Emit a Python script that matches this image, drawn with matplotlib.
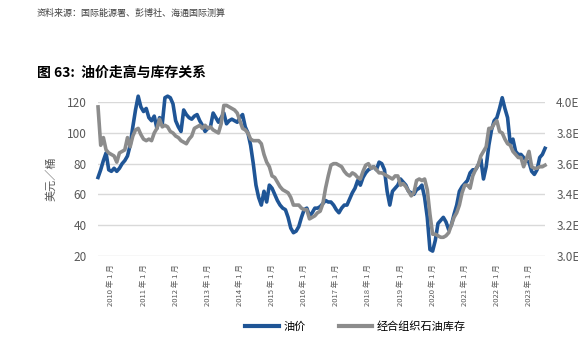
import matplotlib
matplotlib.use('Agg')
import matplotlib.pyplot as plt
from matplotlib.lines import Line2D

plt.rcParams['font.family'] = ['Noto Sans CJK SC', 'DejaVu Sans']

# 月度数据：油价（美元/桶）与经合组织石油库存（E）
oil_price = [
    71, 76, 82, 87, 76, 75, 77, 75, 77, 80, 82, 85,
    92, 104, 115, 124, 117, 114, 116, 110, 108, 111, 103, 110,
    106, 123, 124, 123, 119, 108, 104, 101, 115, 112, 110, 109,
    111, 112, 108, 105, 101, 103, 104, 113, 110, 107, 110, 113,
    106, 108, 109, 108, 107, 110, 112, 104, 100, 92, 80, 66,
    58, 53, 62, 55, 66, 64, 60, 56, 53, 51, 50, 45,
    38, 35, 36, 39, 45, 50, 51, 46, 48, 51, 51, 52,
    54, 56, 55, 55, 53, 50, 48, 51, 53, 53, 57, 61,
    64, 69, 66, 71, 74, 76, 77, 78, 76, 81, 80, 76,
    62, 53, 62, 64, 66, 70, 68, 66, 62, 61, 60, 63,
    64, 66, 58, 45, 24, 23, 30, 41, 43, 45, 42, 37,
    40, 47, 53, 62, 65, 67, 69, 74, 76, 76, 79, 83,
    70, 78, 92, 102, 108, 110, 116, 123, 116, 110, 93, 96,
    88, 86, 86, 84, 82, 81, 75, 73, 76, 84, 86, 90,
]
oecd_stock = [
    3.97, 3.72, 3.77, 3.69, 3.67, 3.66, 3.65, 3.61, 3.67, 3.68, 3.69, 3.77,
    3.71, 3.78, 3.82, 3.83, 3.79, 3.76, 3.75, 3.76, 3.75, 3.80, 3.83, 3.89,
    3.84, 3.85, 3.84, 3.81, 3.80, 3.78, 3.77, 3.75, 3.74, 3.73, 3.76, 3.78,
    3.83, 3.84, 3.85, 3.83, 3.85, 3.83, 3.84, 3.82, 3.81, 3.80, 3.86, 3.98,
    3.98, 3.97, 3.96, 3.95, 3.93, 3.88, 3.83, 3.82, 3.80, 3.76, 3.75, 3.75,
    3.75, 3.73, 3.66, 3.61, 3.58, 3.52, 3.51, 3.48, 3.45, 3.43, 3.42, 3.41,
    3.38, 3.33, 3.33, 3.33, 3.31, 3.30, 3.30, 3.24, 3.25, 3.26, 3.28, 3.29,
    3.34, 3.44, 3.52, 3.59, 3.60, 3.60, 3.59, 3.58, 3.55, 3.53, 3.52, 3.54,
    3.53, 3.51, 3.50, 3.55, 3.59, 3.60, 3.57, 3.58, 3.56, 3.54, 3.54, 3.53,
    3.52, 3.51, 3.50, 3.52, 3.52, 3.46, 3.47, 3.45, 3.42, 3.39, 3.41, 3.49,
    3.50, 3.49, 3.50, 3.43, 3.27, 3.14, 3.14, 3.13, 3.12, 3.12, 3.13, 3.15,
    3.20, 3.25, 3.28, 3.33, 3.41, 3.46, 3.46, 3.44, 3.52, 3.56, 3.59, 3.65,
    3.68, 3.71, 3.83, 3.83, 3.86, 3.88, 3.81, 3.80, 3.76, 3.73, 3.72, 3.68,
    3.66, 3.64, 3.64, 3.58, 3.63, 3.68, 3.58, 3.57, 3.57, 3.58, 3.58, 3.59,
]
years = list(range(2010, 2024))
tick_pos = [5 + 12 * k for k in range(len(years))]
tick_labels = [f'{y} 年 1 月' for y in years]

blue = '#1f5596'
grey = '#8c8c8c'
txt = '#595959'

fig = plt.figure(figsize=(5.78, 3.46), dpi=100)
ax = fig.add_axes([0.1696, 0.261, 0.7734, 0.4433])
x = list(range(len(oil_price)))

ax.plot(x, oil_price, color=blue, lw=2.6, clip_on=False, zorder=3)
ax.set_xlim(0, len(oil_price) - 1)
ax.set_ylim(20, 120)
ax.set_yticks(range(20, 121, 20))
ax.yaxis.grid(True, color='#d9d9d9', lw=1)
ax.set_axisbelow(True)
for s in ax.spines.values():
    s.set_visible(False)
ax.tick_params(axis='y', length=0, labelsize=8.5, labelcolor=txt, pad=8)
ax.set_xticks(tick_pos)
ax.set_xticklabels(tick_labels, rotation=90, fontsize=5.5, color=txt)
ax.tick_params(axis='x', length=0, pad=6)
ax.set_ylabel('美元／桶', fontsize=8, color=txt, labelpad=8)

ax2 = ax.twinx()
ax2.plot(x, oecd_stock, color=grey, lw=2.6, clip_on=False, zorder=3)
ax2.set_ylim(3.0, 4.0)
ax2.set_yticks([3.0, 3.2, 3.4, 3.6, 3.8, 4.0])
ax2.set_yticklabels([f'{v:.1f}E' for v in [3.0, 3.2, 3.4, 3.6, 3.8, 4.0]])
for s in ax2.spines.values():
    s.set_visible(False)
ax2.tick_params(axis='y', length=0, labelsize=8.5, labelcolor=txt, pad=8)

handles = [Line2D([], [], color=blue, lw=3), Line2D([], [], color=grey, lw=3)]
fig.legend(handles, ['油价', '经合组织石油库存'], loc='center', ncol=2,
           bbox_to_anchor=(0.615, 0.055), frameon=False, fontsize=8,
           handlelength=3.0, handletextpad=0.4, columnspacing=3)

fig.text(0.064, 0.962, '资料来源：国际能源署、彭博社、海通国际测算', fontsize=6.5,
         color='#404040', va='center')
fig.text(0.064, 0.79, '图 63:  油价走高与库存关系', fontsize=10,
         fontweight='bold', color='black', va='center')

fig.savefig('out.png', dpi=100)
